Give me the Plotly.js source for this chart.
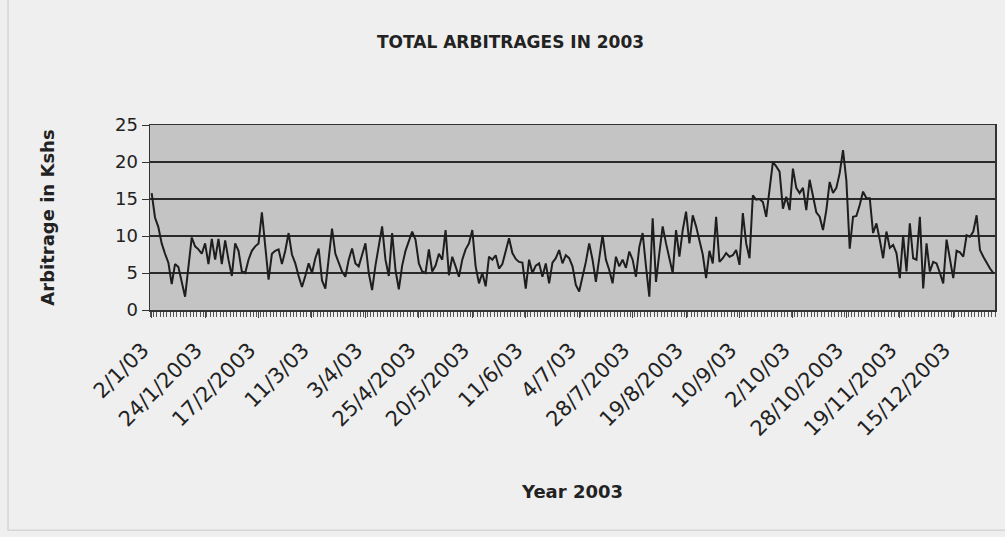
<!DOCTYPE html>
<html>
<head>
<meta charset="utf-8">
<script src="https://cdn.plot.ly/plotly-3.0.1.min.js"></script>
<style>html,body{margin:0;padding:0;background:#efefef;}#chart{width:1005px;height:537px;}</style>
</head>
<body>
<div id="chart"></div>
<script>
// Daily total arbitrage (Kshs), trading days of 2003
const arbitrage = [
15.8,12.5,11.2,9.0,7.6,6.4,3.5,6.2,5.8,4.0,1.8,5.8,9.8,8.6,8.2,7.6,9.0,6.2,9.6,6.8,
9.6,6.2,9.4,6.8,4.6,9.0,8.0,5.2,5.0,6.8,8.0,8.6,9.0,13.2,8.6,4.1,7.6,8.0,8.2,6.2,
8.0,10.4,7.5,6.3,4.6,3.1,4.6,6.3,5.0,7.0,8.3,4.0,2.9,6.8,11.0,7.6,6.3,5.2,4.5,6.8,
8.3,6.3,5.9,7.5,9.0,5.0,2.7,6.0,8.5,11.3,6.8,4.6,10.4,5.4,2.8,6.0,8.0,9.2,10.6,9.5,
6.3,5.2,5.0,8.2,5.2,6.0,7.6,6.8,10.8,4.7,7.2,5.9,4.5,6.8,8.2,9.0,10.8,5.9,3.6,5.0,
3.2,7.2,6.8,7.4,5.6,6.2,8.1,9.7,7.7,6.9,6.5,6.4,2.9,6.8,5.0,6.0,6.3,4.5,6.3,3.6,
6.4,7.0,8.1,6.3,7.4,7.0,5.9,3.4,2.5,4.5,6.5,9.0,6.8,3.8,7.0,10.1,6.8,5.4,3.6,7.2,
5.9,6.8,5.7,7.9,6.8,4.5,8.5,10.4,5.9,1.8,12.4,3.8,7.7,11.3,9.0,7.0,5.0,10.8,7.2,10.8,
13.3,9.0,12.8,11.3,9.5,7.5,4.3,8.0,6.3,12.6,6.5,7.0,7.7,7.2,7.4,8.1,6.1,13.1,9.0,7.0,
15.5,14.9,15.0,14.6,12.6,16.5,20.0,19.4,18.7,13.7,15.3,13.5,19.1,16.5,15.8,16.5,13.5,17.6,15.4,13.2,
12.6,10.8,13.5,17.3,15.8,16.5,18.5,21.6,17.5,8.3,12.6,12.7,14.2,16.0,15.1,15.1,10.4,11.7,9.5,7.0,
10.6,8.4,8.8,7.7,4.3,10.1,5.2,11.7,7.0,6.8,12.6,2.9,9.0,5.2,6.5,6.3,5.0,3.6,9.5,6.8,
4.3,8.0,7.8,7.2,10.1,9.9,10.6,12.8,8.1,7.2,6.3,5.6,5.0
];
// Category tick labels (one every 16 trading days)
const tickLabels = ["2/1/03","24/1/2003","17/2/2003","11/3/03","3/4/03","25/4/2003","20/5/2003","11/6/03",
  "4/7/03","28/7/2003","19/8/2003","10/9/03","2/10/03","28/10/2003","19/11/2003","15/12/2003"];
const labelStep = 16;

const xIdx = arbitrage.map((_, i) => i);
const tickPos = tickLabels.map((_, k) => k * labelStep);

const FONT = "DejaVu Sans, Arial, sans-serif";

Plotly.newPlot('chart', [{
  type: 'scatter', mode: 'lines',
  x: xIdx, y: arbitrage,
  line: {color: '#1e1e1e', width: 2},
  hoverinfo: 'skip'
}], {
  width: 1005, height: 537,
  paper_bgcolor: '#efefef',
  plot_bgcolor: '#c4c4c4',
  margin: {l: 150, r: 10, t: 125, b: 227},
  showlegend: false,
  title: {text: '<b>TOTAL ARBITRAGES IN 2003</b>', x: 0.508, xanchor: 'center', y: 0.922, yanchor: 'middle',
          font: {family: FONT, size: 17, color: '#222'}},
  xaxis: {
    range: [-0.5, arbitrage.length - 0.5],
    tickmode: 'array', tickvals: tickPos, ticktext: tickLabels,
    tickangle: -45, tickfont: {family: FONT, size: 21, color: '#222'},
    ticklabelstandoff: 12, ticklabelshift: -9,
    ticks: 'outside', ticklen: 6, tickcolor: '#444', tickwidth: 1,
    minor: {tickmode: 'linear', tick0: -0.5, dtick: 1, ticks: 'outside', ticklen: 5, tickcolor: '#555', tickwidth: 1, showgrid: false},
    showgrid: false, zeroline: false,
    showline: true, linecolor: '#333', linewidth: 1.5, mirror: true,
    title: {text: '<b>Year 2003</b>', font: {family: FONT, size: 18, color: '#222'}, standoff: 45}
  },
  yaxis: {
    range: [0, 25], dtick: 5, tick0: 0,
    tickfont: {family: FONT, size: 18, color: '#222'},
    ticks: 'outside', ticklen: 7, tickcolor: '#333',
    showgrid: true, gridcolor: '#2a2a2a', gridwidth: 1.5,
    zeroline: false, showline: true, linecolor: '#333', linewidth: 1.5, mirror: true,
    title: {text: '<b>Arbitrage in Kshs</b>', font: {family: FONT, size: 18, color: '#222'}, standoff: 55}
  },
  shapes: [{type: 'rect', xref: 'paper', yref: 'paper', x0: -0.168, x1: 1.1, y0: -1.19, y1: 2.0,
            line: {color: '#d6d6d6', width: 1.5}}]
}, {displayModeBar: false, staticPlot: true});
</script>
</body>
</html>
